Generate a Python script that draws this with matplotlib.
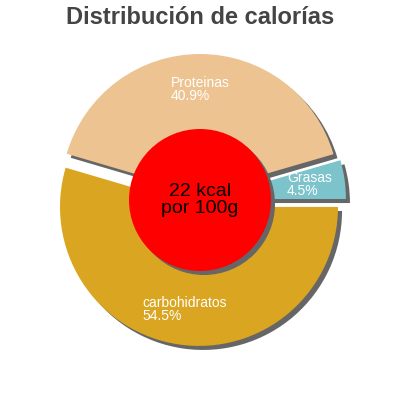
import numpy as np
import matplotlib
matplotlib.use("Agg")
import matplotlib.pyplot as plt

categories = ["carbohidratos", "Proteinas", "Grasas"]
values = [54.5, 40.9, 4.5]
pct_labels = ["54.5%", "40.9%", "4.5%"]
colors = ["#DAA520", "#EDC391", "#7CC3CB"]
title = "Distribución de calorías"
center_text = "22 kcal\npor 100g"

plt.rcParams['font.family'] = ['Liberation Sans', 'DejaVu Sans']

fig = plt.figure(figsize=(4, 4), dpi=100)
ax = fig.add_axes([0, 0, 1, 1])

cx, cy, R = 200, 200, 139
shadow = {'ox': 2.9, 'oy': -2.9, 'facecolor': '#666666', 'edgecolor': '#666666', 'alpha': 1}
wedges, _ = ax.pie(values, colors=colors, startangle=0, counterclock=False,
                   explode=[7, 7, 7], center=(cx, cy), radius=R,
                   shadow=shadow, frame=True, wedgeprops={'linewidth': 0})
ax.set_xlim(0, 400)
ax.set_ylim(0, 400)
ax.set_aspect('equal')
ax.axis('off')

for w, cat, p in zip(wedges, categories, pct_labels):
    ang = np.deg2rad((w.theta1 + w.theta2) / 2)
    x0, y0 = w.center
    d = 0.745 * w.r
    ax.text(x0 + d * np.cos(ang), y0 + d * np.sin(ang), f"{cat}\n{p}",
            ha='center', va='center', multialignment='left',
            color='white', fontsize=10, linespacing=0.9, zorder=10)

circ = plt.Circle((cx, cy), 71, facecolor='#FF0000', edgecolor='none', zorder=5)
ax.add_patch(circ)
sh = plt.Circle((cx + 4, cy - 4), 71, facecolor='#666666', edgecolor='none', zorder=4.5)
ax.add_patch(sh)
ax.text(cx, cy, center_text, ha='center', va='center', fontsize=14,
        color='black', linespacing=1.0, zorder=6)

fig.text(0.5, 1 - 18 / 400, title, ha='center', va='center', fontsize=17,
         fontweight='bold', color='#444444')

fig.savefig("out.png", dpi=100)
